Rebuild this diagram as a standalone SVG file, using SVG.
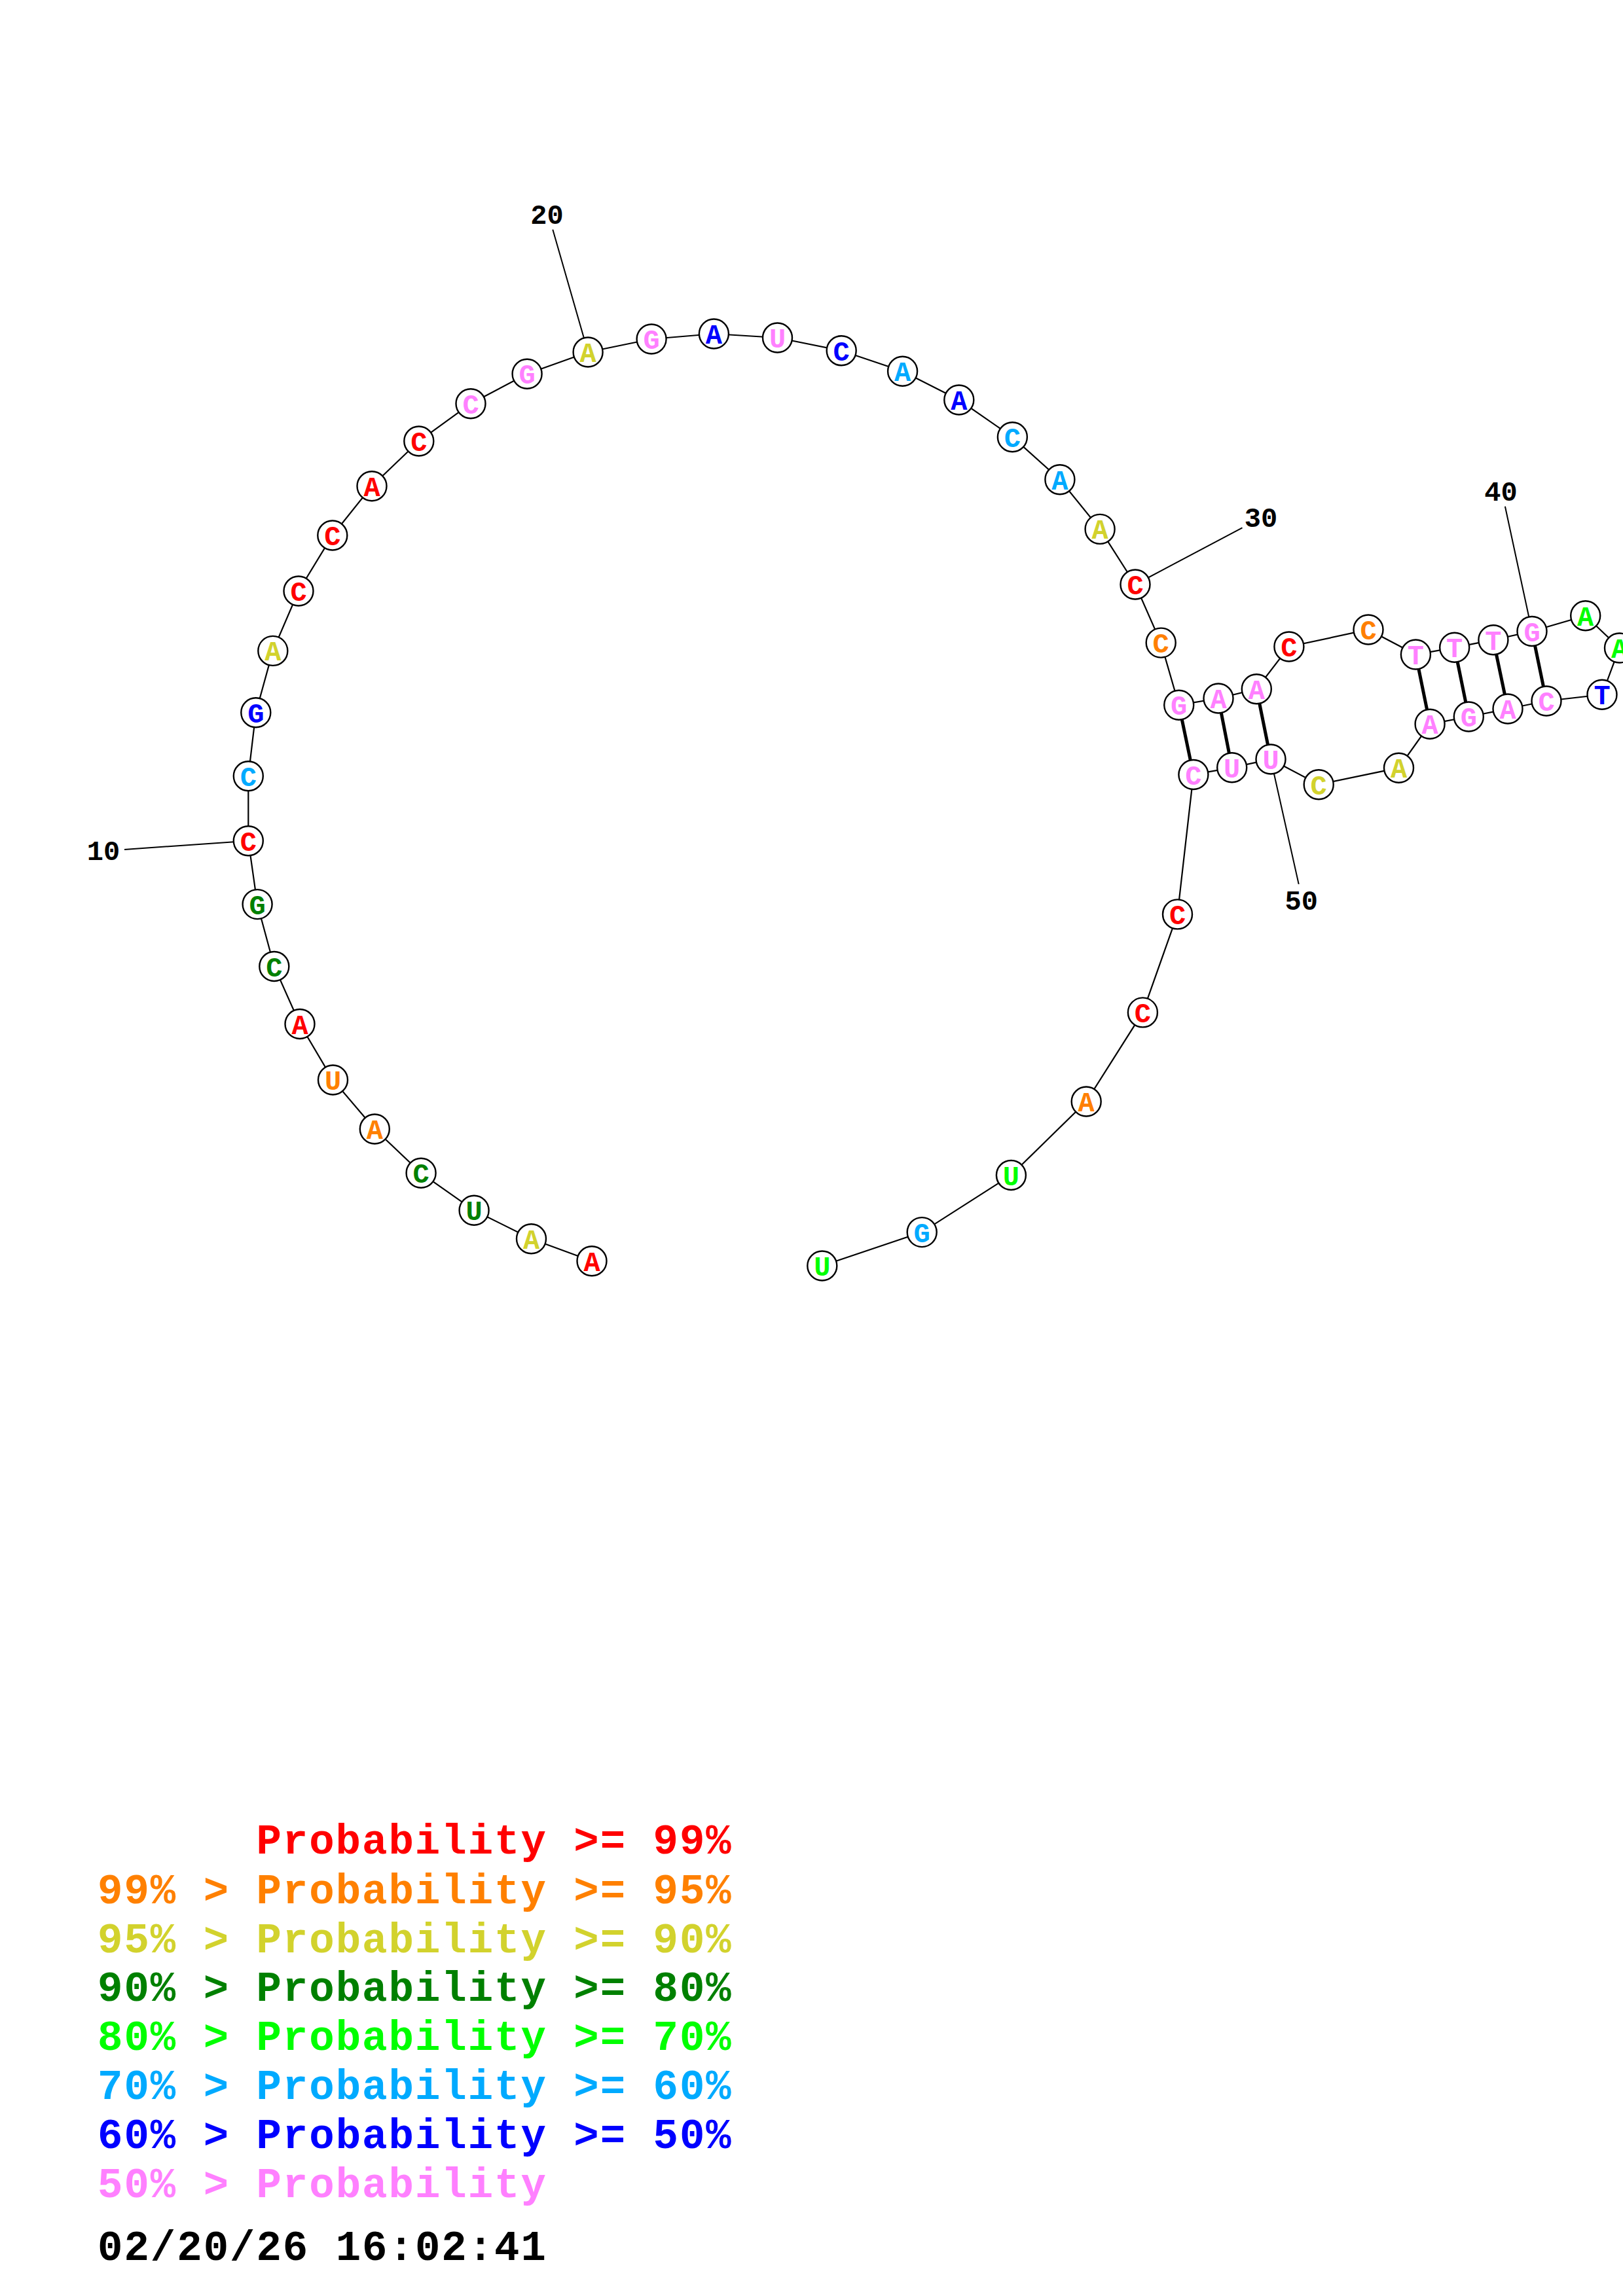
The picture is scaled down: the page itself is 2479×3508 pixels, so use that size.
<svg xmlns="http://www.w3.org/2000/svg" width="2479" height="3508" viewBox="0 0 2479 3508">
<style>
.n{fill:#fff;stroke:#000;stroke-width:2.4}
.b{font-family:"Liberation Mono","DejaVu Sans Mono",monospace;font-weight:bold;font-size:42px;text-anchor:middle}
.lbl{font-family:"Liberation Mono","DejaVu Sans Mono",monospace;font-weight:bold;font-size:42px;text-anchor:middle;fill:#000}
.leg{font-family:"Liberation Mono","DejaVu Sans Mono",monospace;font-weight:bold;font-size:64px;letter-spacing:2px}
.bb{fill:none;stroke:#000;stroke-width:2.2}
.pr{stroke:#000;stroke-width:5}
.tk{stroke:#000;stroke-width:2}
.r{fill:#ff0000}.o{fill:#ff8000}.y{fill:#d2d22d}.g{fill:#008000}.l{fill:#00ff00}.c{fill:#00aaff}.u{fill:#0000ff}.p{fill:#ff80ff}.k{fill:#000}
</style>
<rect width="2479" height="3508" fill="#fff"/>
<g id="connectors">
<polyline class="bb" points="904,1926.7 811.5,1892.7 724.1,1849.3 643.1,1792.3 572.3,1725 508.5,1650 458,1564.5 418.8,1476.5 393.1,1381.6 379.3,1284.7 379.3,1185.7 390.8,1088.8 416.8,994.4 456,903 507.8,818 568,742.7 639.8,674 719,616.7 805.1,571.3 898.1,538 995.1,518 1090.4,510 1187.5,516 1285.2,535.7 1378.6,567.3 1464.8,611 1546.4,667.7 1618.9,732.7 1680.1,808.4 1734,893 1773.2,982.1 1800.7,1077.2 1861,1067 1919.3,1052.7 1968.9,988 2090,962 2162.4,1000 2221.7,989.3 2280.9,977.7 2340,964.5 2421.7,940.8 2473.5,990 2447,1061.3 2362,1071 2303,1083 2243.3,1095 2184.1,1106.3 2136.5,1173.2 2014.2,1198.7 1941,1160 1881.7,1172.8 1822.9,1183.5 1798.5,1396.9 1745.4,1546.9 1659.2,1683 1544.4,1795.5 1408.2,1882.6 1255.8,1934"/>
<line class="pr" x1="1800.7" y1="1077.2" x2="1822.9" y2="1183.5"/>
<line class="pr" x1="1861" y1="1067" x2="1881.7" y2="1172.8"/>
<line class="pr" x1="1919.3" y1="1052.7" x2="1941" y2="1160"/>
<line class="pr" x1="2162.4" y1="1000" x2="2184.1" y2="1106.3"/>
<line class="pr" x1="2221.7" y1="989.3" x2="2243.3" y2="1095"/>
<line class="pr" x1="2280.9" y1="977.7" x2="2303" y2="1083"/>
<line class="pr" x1="2340" y1="964.5" x2="2362" y2="1071"/>
<line class="tk" x1="190" y1="1298" x2="379.3" y2="1284.7"/>
<line class="tk" x1="844.3" y1="350.7" x2="898.1" y2="538"/>
<line class="tk" x1="1897.5" y1="806.3" x2="1734" y2="893"/>
<line class="tk" x1="2298.9" y1="773.7" x2="2340" y2="964.5"/>
<line class="tk" x1="1983.7" y1="1350.9" x2="1941" y2="1160"/>
</g>
<g id="nodes">
<g id="n1"><circle class="n" cx="904" cy="1926.7" r="22.5"/><text class="b r" x="904" y="1941.5">A</text></g>
<g id="n2"><circle class="n" cx="811.5" cy="1892.7" r="22.5"/><text class="b y" x="811.5" y="1907.5">A</text></g>
<g id="n3"><circle class="n" cx="724.1" cy="1849.3" r="22.5"/><text class="b g" x="724.1" y="1864">U</text></g>
<g id="n4"><circle class="n" cx="643.1" cy="1792.3" r="22.5"/><text class="b g" x="643.1" y="1807">C</text></g>
<g id="n5"><circle class="n" cx="572.3" cy="1725" r="22.5"/><text class="b o" x="572.3" y="1740">A</text></g>
<g id="n6"><circle class="n" cx="508.5" cy="1650" r="22.5"/><text class="b o" x="508.5" y="1665">U</text></g>
<g id="n7"><circle class="n" cx="458" cy="1564.5" r="22.5"/><text class="b r" x="458" y="1579.5">A</text></g>
<g id="n8"><circle class="n" cx="418.8" cy="1476.5" r="22.5"/><text class="b g" x="418.8" y="1491.5">C</text></g>
<g id="n9"><circle class="n" cx="393.1" cy="1381.6" r="22.5"/><text class="b g" x="393.1" y="1396.6">G</text></g>
<g id="n10"><circle class="n" cx="379.3" cy="1284.7" r="22.5"/><text class="b r" x="379.3" y="1299.7">C</text></g>
<g id="n11"><circle class="n" cx="379.3" cy="1185.7" r="22.5"/><text class="b c" x="379.3" y="1200.7">C</text></g>
<g id="n12"><circle class="n" cx="390.8" cy="1088.8" r="22.5"/><text class="b u" x="390.8" y="1103.8">G</text></g>
<g id="n13"><circle class="n" cx="416.8" cy="994.4" r="22.5"/><text class="b y" x="416.8" y="1009.4">A</text></g>
<g id="n14"><circle class="n" cx="456" cy="903" r="22.5"/><text class="b r" x="456" y="918">C</text></g>
<g id="n15"><circle class="n" cx="507.8" cy="818" r="22.5"/><text class="b r" x="507.8" y="833">C</text></g>
<g id="n16"><circle class="n" cx="568" cy="742.7" r="22.5"/><text class="b r" x="568" y="757.7">A</text></g>
<g id="n17"><circle class="n" cx="639.8" cy="674" r="22.5"/><text class="b r" x="639.8" y="689">C</text></g>
<g id="n18"><circle class="n" cx="719" cy="616.7" r="22.5"/><text class="b p" x="719" y="631.7">C</text></g>
<g id="n19"><circle class="n" cx="805.1" cy="571.3" r="22.5"/><text class="b p" x="805.1" y="586.3">G</text></g>
<g id="n20"><circle class="n" cx="898.1" cy="538" r="22.5"/><text class="b y" x="898.1" y="553">A</text></g>
<g id="n21"><circle class="n" cx="995.1" cy="518" r="22.5"/><text class="b p" x="995.1" y="533">G</text></g>
<g id="n22"><circle class="n" cx="1090.4" cy="510" r="22.5"/><text class="b u" x="1090.4" y="525">A</text></g>
<g id="n23"><circle class="n" cx="1187.5" cy="516" r="22.5"/><text class="b p" x="1187.5" y="531">U</text></g>
<g id="n24"><circle class="n" cx="1285.2" cy="535.7" r="22.5"/><text class="b u" x="1285.2" y="550.7">C</text></g>
<g id="n25"><circle class="n" cx="1378.6" cy="567.3" r="22.5"/><text class="b c" x="1378.6" y="582.3">A</text></g>
<g id="n26"><circle class="n" cx="1464.8" cy="611" r="22.5"/><text class="b u" x="1464.8" y="626">A</text></g>
<g id="n27"><circle class="n" cx="1546.4" cy="667.7" r="22.5"/><text class="b c" x="1546.4" y="682.7">C</text></g>
<g id="n28"><circle class="n" cx="1618.9" cy="732.7" r="22.5"/><text class="b c" x="1618.9" y="747.7">A</text></g>
<g id="n29"><circle class="n" cx="1680.1" cy="808.4" r="22.5"/><text class="b y" x="1680.1" y="823.4">A</text></g>
<g id="n30"><circle class="n" cx="1734" cy="893" r="22.5"/><text class="b r" x="1734" y="908">C</text></g>
<g id="n31"><circle class="n" cx="1773.2" cy="982.1" r="22.5"/><text class="b o" x="1773.2" y="997.1">C</text></g>
<g id="n32"><circle class="n" cx="1800.7" cy="1077.2" r="22.5"/><text class="b p" x="1800.7" y="1092.2">G</text></g>
<g id="n33"><circle class="n" cx="1861" cy="1067" r="22.5"/><text class="b p" x="1861" y="1082">A</text></g>
<g id="n34"><circle class="n" cx="1919.3" cy="1052.7" r="22.5"/><text class="b p" x="1919.3" y="1067.7">A</text></g>
<g id="n35"><circle class="n" cx="1968.9" cy="988" r="22.5"/><text class="b r" x="1968.9" y="1003">C</text></g>
<g id="n36"><circle class="n" cx="2090" cy="962" r="22.5"/><text class="b o" x="2090" y="977">C</text></g>
<g id="n37"><circle class="n" cx="2162.4" cy="1000" r="22.5"/><text class="b p" x="2162.4" y="1015">T</text></g>
<g id="n38"><circle class="n" cx="2221.7" cy="989.3" r="22.5"/><text class="b p" x="2221.7" y="1004.3">T</text></g>
<g id="n39"><circle class="n" cx="2280.9" cy="977.7" r="22.5"/><text class="b p" x="2280.9" y="992.7">T</text></g>
<g id="n40"><circle class="n" cx="2340" cy="964.5" r="22.5"/><text class="b p" x="2340" y="979.5">G</text></g>
<g id="n41"><circle class="n" cx="2421.7" cy="940.8" r="22.5"/><text class="b l" x="2421.7" y="955.8">A</text></g>
<g id="n42"><circle class="n" cx="2473.5" cy="990" r="22.5"/><text class="b l" x="2473.5" y="1005">A</text></g>
<g id="n43"><circle class="n" cx="2447" cy="1061.3" r="22.5"/><text class="b u" x="2447" y="1076.3">T</text></g>
<g id="n44"><circle class="n" cx="2362" cy="1071" r="22.5"/><text class="b p" x="2362" y="1086">C</text></g>
<g id="n45"><circle class="n" cx="2303" cy="1083" r="22.5"/><text class="b p" x="2303" y="1098">A</text></g>
<g id="n46"><circle class="n" cx="2243.3" cy="1095" r="22.5"/><text class="b p" x="2243.3" y="1110">G</text></g>
<g id="n47"><circle class="n" cx="2184.1" cy="1106.3" r="22.5"/><text class="b p" x="2184.1" y="1121.3">A</text></g>
<g id="n48"><circle class="n" cx="2136.5" cy="1173.2" r="22.5"/><text class="b y" x="2136.5" y="1188.2">A</text></g>
<g id="n49"><circle class="n" cx="2014.2" cy="1198.7" r="22.5"/><text class="b y" x="2014.2" y="1213.7">C</text></g>
<g id="n50"><circle class="n" cx="1941" cy="1160" r="22.5"/><text class="b p" x="1941" y="1175">U</text></g>
<g id="n51"><circle class="n" cx="1881.7" cy="1172.8" r="22.5"/><text class="b p" x="1881.7" y="1187.8">U</text></g>
<g id="n52"><circle class="n" cx="1822.9" cy="1183.5" r="22.5"/><text class="b p" x="1822.9" y="1198.5">C</text></g>
<g id="n53"><circle class="n" cx="1798.5" cy="1396.9" r="22.5"/><text class="b r" x="1798.5" y="1411.9">C</text></g>
<g id="n54"><circle class="n" cx="1745.4" cy="1546.9" r="22.5"/><text class="b r" x="1745.4" y="1561.9">C</text></g>
<g id="n55"><circle class="n" cx="1659.2" cy="1683" r="22.5"/><text class="b o" x="1659.2" y="1698">A</text></g>
<g id="n56"><circle class="n" cx="1544.4" cy="1795.5" r="22.5"/><text class="b l" x="1544.4" y="1810.5">U</text></g>
<g id="n57"><circle class="n" cx="1408.2" cy="1882.6" r="22.5"/><text class="b c" x="1408.2" y="1897.6">G</text></g>
<g id="n58"><circle class="n" cx="1255.8" cy="1934" r="22.5"/><text class="b l" x="1255.8" y="1949">U</text></g>
</g>
<g id="labels">
<text class="lbl" x="158" y="1314">10</text>
<text class="lbl" x="835.5" y="342">20</text>
<text class="lbl" x="1926" y="805">30</text>
<text class="lbl" x="2292.5" y="764.7">40</text>
<text class="lbl" x="1987.7" y="1389.7">50</text>
</g>
<g id="legend">
<text class="leg r" x="391.4" y="2832">Probability &gt;= 99%</text>
<text class="leg o" x="149" y="2907.5">99% &gt; Probability &gt;= 95%</text>
<text class="leg y" x="149" y="2983">95% &gt; Probability &gt;= 90%</text>
<text class="leg g" x="149" y="3057">90% &gt; Probability &gt;= 80%</text>
<text class="leg l" x="149" y="3131.7">80% &gt; Probability &gt;= 70%</text>
<text class="leg c" x="149" y="3207">70% &gt; Probability &gt;= 60%</text>
<text class="leg u" x="149" y="3281.8">60% &gt; Probability &gt;= 50%</text>
<text class="leg p" x="149" y="3356.8">50% &gt; Probability</text>
<text class="leg k" x="149" y="3452.6">02/20/26 16:02:41</text>
</g>
</svg>
